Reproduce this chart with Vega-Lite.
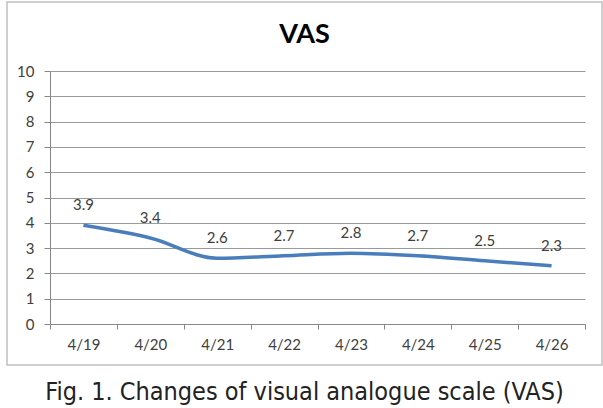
{
  "$schema": "https://vega.github.io/schema/vega-lite/v6.json",
  "padding": {"left": 6, "top": 1, "right": 2, "bottom": 0},
  "background": "white",
  "title": {
    "text": "Fig. 1. Changes of visual analogue scale (VAS)",
    "orient": "bottom",
    "anchor": "middle",
    "font": "DejaVu Sans Condensed, sans-serif",
    "fontSize": 25,
    "fontWeight": "normal",
    "color": "#222222",
    "offset": 14
  },
  "data": {
    "values": [
      {"date": "4/19", "vas": 3.9},
      {"date": "4/20", "vas": 3.4},
      {"date": "4/21", "vas": 2.6},
      {"date": "4/22", "vas": 2.7},
      {"date": "4/23", "vas": 2.8},
      {"date": "4/24", "vas": 2.7},
      {"date": "4/25", "vas": 2.5},
      {"date": "4/26", "vas": 2.3}
    ]
  },
  "vconcat": [
    {
      "width": 595,
      "height": 363,
      "title": {
        "text": "VAS",
        "font": "Lato",
        "fontSize": 27,
        "fontWeight": "bold",
        "color": "#000000",
        "anchor": "middle",
        "offset": -68,
        "baseline": "alphabetic"
      },
      "encoding": {
        "x": {
          "field": "date",
          "type": "ordinal",
          "sort": null,
          "scale": {"type": "band", "range": [43, 578], "paddingInner": 0, "paddingOuter": 0},
          "axis": {
            "title": null,
            "orient": "bottom",
            "offset": -41,
            "tickBand": "extent",
            "grid": false,
            "domainColor": "#888888",
            "tickColor": "#888888",
            "tickSize": 5,
            "labelPadding": 8,
            "labelFont": "Lato",
            "labelFontSize": 15,
            "labelColor": "#404040",
            "labelAngle": 0
          }
        },
        "y": {
          "field": "vas",
          "type": "quantitative",
          "scale": {"domain": [0, 10], "range": [322, 69], "nice": false},
          "axis": {
            "title": null,
            "offset": -43,
            "values": [0, 1, 2, 3, 4, 5, 6, 7, 8, 9, 10],
            "grid": true,
            "gridColor": "#9a9a9a",
            "domainColor": "#888888",
            "tickColor": "#888888",
            "tickSize": 6,
            "labelPadding": 10,
            "labelFont": "Lato",
            "labelFontSize": 15,
            "labelColor": "#404040"
          }
        }
      },
      "layer": [
        {
          "mark": {"type": "line", "color": "#4a7ebb", "strokeWidth": 3.5, "interpolate": "monotone"}
        },
        {
          "mark": {"type": "text", "dy": -20, "font": "Lato", "fontSize": 15, "color": "#404040", "baseline": "middle"},
          "encoding": {"text": {"field": "vas", "type": "quantitative", "format": ".1f"}}
        }
      ]
    }
  ],
  "config": {
    "view": {"stroke": "#c0c0c0", "strokeWidth": 1.5}
  }
}
